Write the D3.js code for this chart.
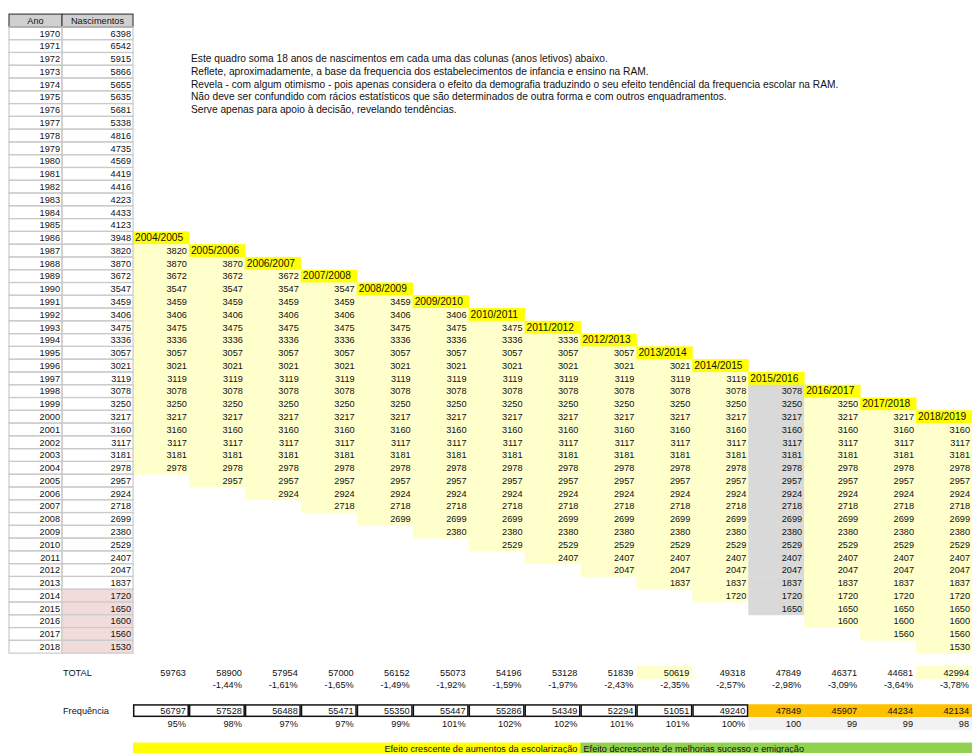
<!DOCTYPE html>
<head>
  <meta charset="utf-8">
  <script src="https://d3js.org/d3.v7.min.js"></script>
  <style>
    body { margin: 0; background: #fff; }
    text { font-family: "Liberation Sans", Arial, sans-serif; font-size: 9.2px; fill: #111; }
  </style>
</head>

<body>
  <div id="quadro"></div>

  <script>
    // Nascimentos por ano (1970 - 2018)
    var anos = [1970, 1971, 1972, 1973, 1974, 1975, 1976, 1977, 1978, 1979,
                1980, 1981, 1982, 1983, 1984, 1985, 1986, 1987, 1988, 1989,
                1990, 1991, 1992, 1993, 1994, 1995, 1996, 1997, 1998, 1999,
                2000, 2001, 2002, 2003, 2004, 2005, 2006, 2007, 2008, 2009,
                2010, 2011, 2012, 2013, 2014, 2015, 2016, 2017, 2018];
    var nascimentos = [6398, 6542, 5915, 5866, 5655, 5635, 5681, 5338, 4816, 4735,
                       4569, 4419, 4416, 4223, 4433, 4123, 3948, 3820, 3870, 3672,
                       3547, 3459, 3406, 3475, 3336, 3057, 3021, 3119, 3078, 3250,
                       3217, 3160, 3117, 3181, 2978, 2957, 2924, 2718, 2699, 2380,
                       2529, 2407, 2047, 1837, 1720, 1650, 1600, 1560, 1530];
    // anos com valores estimados (rosa)
    var projecao = [2014, 2015, 2016, 2017, 2018];

    // Colunas (anos letivos) e o primeiro ano de nascimento somado em cada uma
    var anosLetivos = ["2004/2005", "2005/2006", "2006/2007", "2007/2008", "2008/2009",
                       "2009/2010", "2010/2011", "2011/2012", "2012/2013", "2013/2014",
                       "2014/2015", "2015/2016", "2016/2017", "2017/2018", "2018/2019"];
    var primeiroAno = [1987, 1988, 1989, 1990, 1991, 1992, 1993, 1994, 1995, 1996,
                       1997, 1998, 1999, 2000, 2001];
    var anosSomados = 18;
    var colunaCinza = "2015/2016";

    var totais = [59763, 58900, 57954, 57000, 56152, 55073, 54196, 53128, 51839, 50619,
                  49318, 47849, 46371, 44681, 42994];
    var variacao = ["", "-1,44%", "-1,61%", "-1,65%", "-1,49%", "-1,92%", "-1,59%", "-1,97%",
                    "-2,43%", "-2,35%", "-2,57%", "-2,98%", "-3,09%", "-3,64%", "-3,78%"];
    var totaisDestaque = ["2013/2014", "2018/2019"];

    var frequencia = [56797, 57528, 56488, 55471, 55350, 55447, 55286, 54349, 52294, 51051,
                      49240, 47849, 45907, 44234, 42134];
    var frequenciaPct = ["95%", "98%", "97%", "97%", "99%", "101%", "102%", "102%", "101%",
                         "101%", "100%", "100", "99", "99", "98"];
    var frequenciaEstimada = ["2015/2016", "2016/2017", "2017/2018", "2018/2019"];

    var notas = [
      "Este quadro soma 18 anos de nascimentos em cada uma das colunas (anos letivos) abaixo.",
      "Reflete, aproximadamente, a base da frequencia dos estabelecimentos de infancia e ensino na RAM.",
      "Revela - com algum otimismo - pois apenas considera o efeito da demografia traduzindo o seu efeito tendêncial da frequencia escolar na RAM.",
      "Não deve ser confundido com rácios estatísticos que são determinados de outra forma e com outros enquadramentos.",
      "Serve apenas para apoio à decisão, revelando tendências."
    ];

    var legendaCresce = "Efeito crescente de aumentos da escolarização";
    var legendaDecresce = "Efeito decrescente de melhorias sucesso e emigração";

    // Layout
    var width = 972, height = 753;
    var pitch = 12.78;
    var row = d3.scaleLinear().domain([0, 1]).range([26.9, 26.9 + pitch]); // topo da linha
    var col = d3.scaleBand().domain(anosLetivos).range([133, 972]);
    var anoX = [9, 62], nascX = [62, 133];

    var rowTotal = 50, rowVar = 51, rowFreq = 53, rowPct = 54, rowLegenda = 56;

    var svg = d3.select("#quadro").append("svg")
        .attr("width", width)
        .attr("height", height);

    var fundos = svg.append("g");
    var linhas = svg.append("g");
    var textos = svg.append("g");

    function base(r) { return row(r) + pitch / 2 + 3.3; }

    function fundo(x, r, w, cor) {
      fundos.append("rect")
          .attr("x", x).attr("y", row(r))
          .attr("width", w + 0.4).attr("height", pitch + 0.4)
          .style("fill", cor);
    }

    function texto(x, r, t, anchor) {
      return textos.append("text")
          .attr("x", x).attr("y", base(r))
          .attr("text-anchor", anchor || "end")
          .text(t);
    }

    // --- tabela Ano / Nascimentos ---
    fundos.selectAll(".cab").data([anoX, nascX]).enter().append("rect")
        .attr("x", function(d) { return d[0]; })
        .attr("y", row(-1))
        .attr("width", function(d) { return d[1] - d[0]; })
        .attr("height", pitch)
        .style("fill", "#d0d0d0")
        .style("stroke", "#444")
        .style("stroke-width", 1.2);
    texto((anoX[0] + anoX[1]) / 2, -1, "Ano", "middle");
    texto((nascX[0] + nascX[1]) / 2, -1, "Nascimentos", "middle");

    anos.forEach(function(a, i) {
      [anoX, nascX].forEach(function(c, j) {
        linhas.append("rect")
            .attr("x", c[0]).attr("y", row(i))
            .attr("width", c[1] - c[0]).attr("height", pitch)
            .style("fill", j === 1 && projecao.indexOf(a) > -1 ? "#f2dcdb" : "none")
            .style("stroke", "#cacaca")
            .style("stroke-width", 1.2);
      });
      texto(anoX[1] - 2, i, a);
      texto(nascX[1] - 2, i, nascimentos[i]);
    });

    // --- notas ---
    notas.forEach(function(n, i) {
      textos.append("text")
          .attr("x", 191).attr("y", base(2 + i))
          .style("font-size", "10.2px")
          .text(n);
    });

    // --- escada de somas por ano letivo ---
    anosLetivos.forEach(function(al, k) {
      var x = col(al), w = col.bandwidth();
      var i0 = anos.indexOf(primeiroAno[k]);
      fundo(x, i0 - 1, w, "#ffff00");
      texto(x + 2, i0 - 1, al, "start").style("font-size", "10.2px");
      for (var i = i0; i < i0 + anosSomados; i++) {
        fundo(x, i, w, al === colunaCinza ? "#d9d9d9" : "#ffffcc");
        texto(x + w - 2, i, nascimentos[i]);
      }

      // TOTAL e variação
      if (totaisDestaque.indexOf(al) > -1) fundo(x, rowTotal, w, "#ffffcc");
      texto(x + w - 3, rowTotal, totais[k]);
      texto(x + w - 3, rowVar, variacao[k]);

      // Frequência
      if (frequenciaEstimada.indexOf(al) > -1) {
        fundo(x, rowFreq, w, "#ffc000");
        fundo(x, rowPct, w, "#f2f2f2");
      } else {
        linhas.append("rect")
            .attr("x", x + 0.7).attr("y", row(rowFreq) + 0.7)
            .attr("width", w - 1.4).attr("height", pitch - 1.4)
            .style("fill", "#fff")
            .style("stroke", "#111")
            .style("stroke-width", 1.5);
      }
      texto(x + w - 3, rowFreq, frequencia[k]);
      texto(x + w - 3, rowPct, frequenciaPct[k]);
    });

    texto(63, rowTotal, "TOTAL", "start");
    texto(63, rowFreq, "Frequência", "start");

    // --- legenda ---
    var meio = col("2012/2013");
    fundo(133, rowLegenda, meio - 133, "#ffff00");
    fundo(meio, rowLegenda, width - meio, "#92d050");
    texto(meio - 3, rowLegenda, legendaCresce, "end");
    texto(meio + 3, rowLegenda, legendaDecresce, "start");
  </script>
</body>
